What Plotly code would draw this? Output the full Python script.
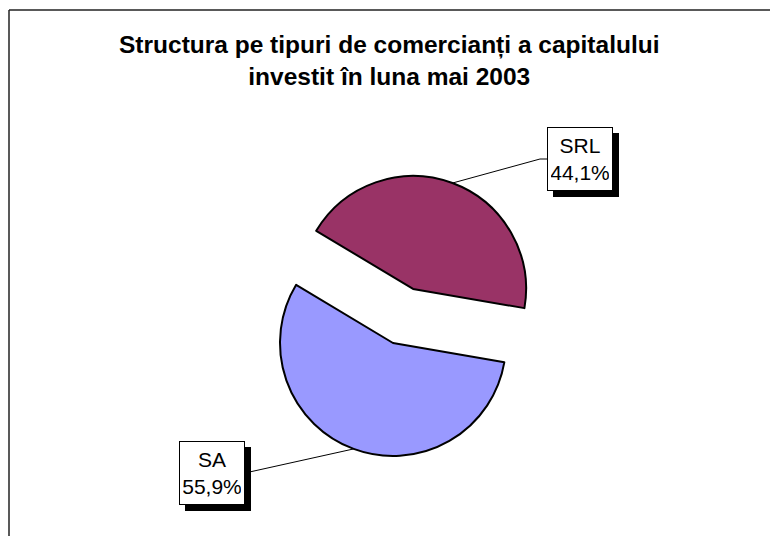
import math
import plotly.graph_objects as go

# chart data
labels = ["SRL", "SA"]
values = [44.1, 55.9]
label_text = ["SRL<br>44,1%", "SA<br>55,9%"]
colors = ["#993366", "#9999FF"]
pulls = [0.51, 0]

title_text = "<b>Structura pe tipuri de comercianți a capitalului<br>investit în luna mai 2003</b>"

# page body has an 8px margin, so the figure is a bit smaller than the window
OFF = 8
W, H = 770, 528
CX, CY, R = 393, 343, 113   # pie centre / radius, window pixels
ROT = -59                   # first slice starts here (deg, clockwise from 12 o'clock)

def px(x):
    return (x - OFF) / W

def py(y):
    return 1 - (y - OFF) / H

# domain sized the way plotly sizes a pulled pie: r = half / (1 + max pull)
half = R * (1 + max(pulls))
dom_x = [px(CX - half), px(CX + half)]
dom_y = [py(CY + half), py(CY - half)]

# where each label box sits (window pixel centre) and its size
boxes = [(580, 159), (212, 473)]
BOX_W, BOX_H = 66, 64
SHADOW = 6

fig = go.Figure(go.Pie(
    labels=labels,
    values=values,
    sort=False,
    direction="clockwise",
    rotation=ROT,
    pull=pulls,
    textinfo="none",
    hoverinfo="label+percent",
    marker=dict(colors=colors, line=dict(color="black", width=2)),
    domain=dict(x=dom_x, y=dom_y),
    showlegend=False,
))

shapes = []
annotations = []
total = sum(values)
start = ROT
for i, v in enumerate(values):
    sweep = v / total * 360
    mid = math.radians(start + sweep / 2)   # clockwise from top
    start += sweep
    # slice centre after pull
    sx = CX + pulls[i] * R * math.sin(mid)
    sy = CY - pulls[i] * R * math.cos(mid)
    # point on the arc at mid angle
    ax = sx + R * math.sin(mid)
    ay = sy - R * math.cos(mid)
    bx, by = boxes[i]
    if bx > ax:
        ex = bx - BOX_W / 2
        path = "M %f %f L %f %f L %f %f" % (px(ax), py(ay), px(ex - 7), py(by), px(ex), py(by))
    else:
        ex = bx + BOX_W / 2
        path = "M %f %f L %f %f" % (px(ax), py(ay), px(ex), py(by))
    shapes.append(dict(type="path", xref="paper", yref="paper", path=path,
                       line=dict(color="black", width=1)))
    # drop shadow behind the label box
    shapes.append(dict(type="rect", xref="paper", yref="paper",
                       x0=px(bx - BOX_W / 2 + SHADOW), x1=px(bx + BOX_W / 2 + SHADOW),
                       y0=py(by - BOX_H / 2 + SHADOW), y1=py(by + BOX_H / 2 + SHADOW),
                       fillcolor="black", line=dict(width=0)))
    annotations.append(dict(
        x=px(bx), y=py(by), xref="paper", yref="paper",
        xanchor="center", yanchor="middle",
        text=label_text[i], showarrow=False,
        width=BOX_W - 8, height=BOX_H - 8, borderpad=3,
        bgcolor="white", bordercolor="black", borderwidth=1,
        font=dict(family="Liberation Sans, Arial", size=21, color="black"),
    ))

# title as a centred annotation (multi-line titles drift in plotly)
annotations.append(dict(
    x=px(389), y=py(60), xref="paper", yref="paper",
    xanchor="center", yanchor="middle", showarrow=False,
    text=title_text,
    font=dict(family="Liberation Sans, Arial", size=24.5, color="black"),
))

# chart area frame (top and left edges visible)
shapes.append(dict(type="line", xref="paper", yref="paper",
                   x0=px(9), y0=py(10), x1=1.1, y1=py(10),
                   line=dict(color="#222222", width=1.5)))
shapes.append(dict(type="line", xref="paper", yref="paper",
                   x0=px(9), y0=py(10), x1=px(9), y1=-0.1,
                   line=dict(color="#222222", width=1.5)))

fig.update_layout(
    width=W, height=H,
    margin=dict(l=0, r=0, t=0, b=0),
    paper_bgcolor="white",
    plot_bgcolor="white",
    shapes=shapes,
    annotations=annotations,
)

fig.write_html("out.html")
